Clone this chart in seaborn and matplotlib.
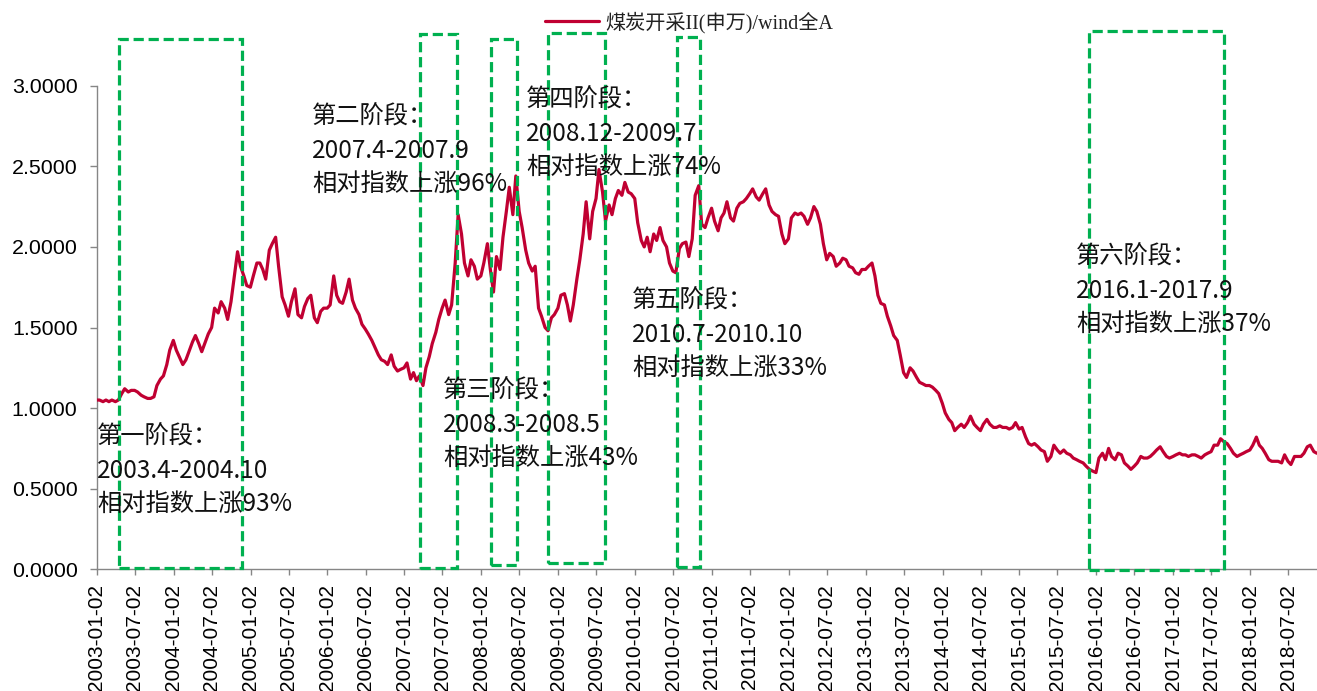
import matplotlib
matplotlib.use("Agg")
import matplotlib.pyplot as plt
import matplotlib.dates as mdates
from matplotlib.patches import Rectangle
from matplotlib.ticker import FormatStrFormatter, FixedLocator
import pandas as pd
import seaborn as sns

sns.set_style("ticks")
plt.rcParams["font.family"] = ["Liberation Sans", "Noto Sans CJK SC"]
plt.rcParams["axes.unicode_minus"] = False

# ---- data: coal mining (SW) / Wind All-A relative index, semi-monthly ----
series_name = "煤炭开采II(申万)/wind全A"
series_start = "2003-01-01"

ratio_2003 = [1.05, 1.05, 1.04, 1.05, 1.04, 1.05, 1.04, 1.05, 1.09, 1.12, 1.10, 1.11,
              1.11, 1.10, 1.08, 1.07, 1.06, 1.06, 1.07, 1.14, 1.18, 1.20, 1.27, 1.36]
ratio_2004 = [1.42, 1.36, 1.31, 1.27, 1.30, 1.35, 1.41, 1.45, 1.40, 1.35, 1.41, 1.46,
              1.50, 1.62, 1.59, 1.66, 1.62, 1.55, 1.66, 1.80, 1.97, 1.88, 1.82, 1.76]
ratio_2005 = [1.75, 1.82, 1.90, 1.90, 1.86, 1.80, 1.98, 2.02, 2.06, 1.88, 1.69, 1.64,
              1.57, 1.66, 1.74, 1.58, 1.56, 1.63, 1.68, 1.70, 1.56, 1.53, 1.60, 1.62]
ratio_2006 = [1.62, 1.64, 1.82, 1.70, 1.66, 1.65, 1.72, 1.80, 1.67, 1.62, 1.58, 1.52,
              1.49, 1.46, 1.42, 1.38, 1.33, 1.30, 1.29, 1.27, 1.33, 1.26, 1.23, 1.24]
ratio_2007 = [1.25, 1.28, 1.18, 1.22, 1.17, 1.20, 1.14, 1.25, 1.32, 1.40, 1.47, 1.55,
              1.62, 1.67, 1.58, 1.64, 1.90, 2.20, 2.08, 1.90, 1.82, 1.92, 1.88, 1.80]
ratio_2008 = [1.82, 1.90, 2.02, 1.86, 1.72, 1.94, 1.86, 2.06, 2.22, 2.37, 2.20, 2.44,
              2.22, 2.12, 1.98, 1.90, 1.85, 1.88, 1.62, 1.57, 1.50, 1.48, 1.56, 1.58]
ratio_2009 = [1.62, 1.70, 1.71, 1.64, 1.54, 1.64, 1.80, 1.92, 2.08, 2.28, 2.05, 2.22,
              2.30, 2.48, 2.34, 2.16, 2.26, 2.20, 2.30, 2.35, 2.32, 2.40, 2.34, 2.33]
ratio_2010 = [2.30, 2.15, 2.04, 2.00, 2.06, 1.97, 2.08, 2.04, 2.12, 2.04, 2.00, 1.90,
              1.85, 1.84, 1.99, 2.02, 2.03, 1.94, 2.05, 2.32, 2.38, 2.14, 2.12, 2.18]
ratio_2011 = [2.24, 2.16, 2.10, 2.18, 2.21, 2.28, 2.18, 2.16, 2.24, 2.27, 2.28, 2.30,
              2.33, 2.36, 2.31, 2.29, 2.33, 2.36, 2.26, 2.22, 2.20, 2.19, 2.08, 2.02]
ratio_2012 = [2.05, 2.18, 2.21, 2.20, 2.21, 2.19, 2.14, 2.18, 2.25, 2.22, 2.14, 2.02,
              1.92, 1.96, 1.94, 1.88, 1.90, 1.93, 1.92, 1.88, 1.87, 1.84, 1.83, 1.86]
ratio_2013 = [1.86, 1.88, 1.90, 1.82, 1.70, 1.65, 1.64, 1.57, 1.51, 1.45, 1.42, 1.33,
              1.22, 1.19, 1.25, 1.23, 1.19, 1.16, 1.15, 1.14, 1.14, 1.13, 1.11, 1.09]
ratio_2014 = [1.03, 0.97, 0.93, 0.91, 0.86, 0.88, 0.90, 0.88, 0.91, 0.95, 0.90, 0.88,
              0.86, 0.90, 0.93, 0.90, 0.88, 0.88, 0.89, 0.88, 0.88, 0.87, 0.88, 0.91]
ratio_2015 = [0.87, 0.88, 0.82, 0.78, 0.77, 0.78, 0.76, 0.74, 0.73, 0.67, 0.70, 0.77,
              0.74, 0.72, 0.74, 0.72, 0.71, 0.69, 0.68, 0.67, 0.66, 0.64, 0.62, 0.61]
ratio_2016 = [0.60, 0.69, 0.72, 0.68, 0.75, 0.70, 0.68, 0.72, 0.71, 0.66, 0.64, 0.62,
              0.64, 0.66, 0.70, 0.69, 0.69, 0.70, 0.72, 0.74, 0.76, 0.73, 0.70, 0.69]
ratio_2017 = [0.70, 0.71, 0.72, 0.71, 0.71, 0.70, 0.71, 0.71, 0.70, 0.69, 0.71, 0.72,
              0.73, 0.77, 0.77, 0.81, 0.79, 0.78, 0.75, 0.72, 0.70, 0.71, 0.72, 0.73]
ratio_2018 = [0.74, 0.77, 0.82, 0.77, 0.75, 0.72, 0.68, 0.67, 0.67, 0.67, 0.66, 0.71,
              0.67, 0.65, 0.70, 0.70, 0.70, 0.72, 0.76, 0.77, 0.73, 0.72]

ratio = (ratio_2003 + ratio_2004 + ratio_2005 + ratio_2006 + ratio_2007 + ratio_2008
         + ratio_2009 + ratio_2010 + ratio_2011 + ratio_2012 + ratio_2013 + ratio_2014
         + ratio_2015 + ratio_2016 + ratio_2017 + ratio_2018)
dates = pd.date_range(series_start, periods=len(ratio), freq="SMS")
df = pd.DataFrame({"date": dates, "ratio": ratio})

# ---- stage annotations ----
stage_titles = ["第一阶段：", "第二阶段：", "第三阶段：", "第四阶段：", "第五阶段：", "第六阶段："]
stage_periods = ["2003.4-2004.10", "2007.4-2007.9", "2008.3-2008.5",
                 "2008.12-2009.7", "2010.7-2010.10", "2016.1-2017.9"]
stage_gains = ["相对指数上涨93%", "相对指数上涨96%", "相对指数上涨43%",
               "相对指数上涨74%", "相对指数上涨33%", "相对指数上涨37%"]
box_starts = ["2003-04-18", "2007-03-18", "2008-02-18", "2008-11-14", "2010-07-22", "2015-11-29"]
box_ends = ["2004-11-22", "2007-09-11", "2008-06-19", "2009-08-13", "2010-11-07", "2017-08-31"]
box_bottoms = [0.006, 0.008, 0.027, 0.040, 0.016, -0.004]
box_tops = [3.29, 3.32, 3.29, 3.33, 3.30, 3.34]
# label anchors in pixels: left x, centre y of first line
label_x = [97, 312, 443, 526, 632, 1076]
label_y = [437, 117, 391, 100, 301, 257]
line_gap = 34

x_ticks = pd.date_range("2003-01-01", "2018-07-01", freq="6MS") + pd.Timedelta(days=1)
y_ticks = [0.0, 0.5, 1.0, 1.5, 2.0, 2.5, 3.0]

W, H = 1317, 691
fig = plt.figure(figsize=(W / 100, H / 100), dpi=100)
ax = fig.add_axes([96.7 / W, 1 - 569.3 / H, (W - 96.7) / W, (569.3 - 85.7) / H])

line_color = "#C00032"
green = "#00B050"
axis_gray = "#868686"

sns.lineplot(data=df, x="date", y="ratio", ax=ax, color=line_color, linewidth=2.3,
             label=series_name, zorder=3)

ax.set_ylim(0, 3.0)
ax.set_xlim(pd.Timestamp("2003-01-02"), pd.Timestamp("2018-11-16"))
ax.yaxis.set_major_locator(FixedLocator(y_ticks))
ax.yaxis.set_major_formatter(FormatStrFormatter("%.4f"))
ax.xaxis.set_major_locator(FixedLocator(mdates.date2num(x_ticks)))
ax.xaxis.set_major_formatter(mdates.DateFormatter("%Y-%m-%d"))
ax.set_xlabel("")
ax.set_ylabel("")

for s in ["top", "right"]:
    ax.spines[s].set_visible(False)
for s in ["left", "bottom"]:
    ax.spines[s].set_color(axis_gray)
    ax.spines[s].set_linewidth(1.0)

ax.tick_params(axis="y", direction="out", length=4.8, width=1.0, color=axis_gray,
               pad=9, labelsize=15.4, labelcolor="black")
ax.tick_params(axis="x", direction="out", length=4.0, width=1.0, color=axis_gray,
               pad=6.5, labelsize=15, labelcolor="black", labelrotation=90)
for lbl in ax.get_xticklabels() + ax.get_yticklabels():
    lbl.set_fontfamily(["Liberation Sans"])

# dashed stage boxes
for x0, x1, b, t in zip(box_starts, box_ends, box_bottoms, box_tops):
    n0 = mdates.date2num(pd.Timestamp(x0))
    n1 = mdates.date2num(pd.Timestamp(x1))
    rect = Rectangle((n0, b), n1 - n0, t - b, fill=False, edgecolor=green,
                     linewidth=2.3, linestyle=(0, (3.2, 1.5)), clip_on=False, zorder=4)
    ax.add_patch(rect)

# stage labels
for title, period, gain, lx, ly in zip(stage_titles, stage_periods, stage_gains, label_x, label_y):
    for i, txt in enumerate([title, period, gain]):
        fig.text(lx / W, 1 - (ly + i * line_gap) / H, txt, ha="left", va="center",
                 fontsize=17.5, color="#111111",
                 family=["Noto Sans CJK SC", "DejaVu Sans"], zorder=6)

# legend
leg = ax.legend(loc="center left", bbox_to_anchor=(545 / W, 1 - 22.7 / H),
                bbox_transform=fig.transFigure, frameon=False, borderpad=0,
                borderaxespad=0, handlelength=2.7, handletextpad=0.3,
                prop={"family": ["Liberation Serif", "Noto Sans CJK SC"], "size": 14.5})
for t in leg.get_texts():
    t.set_color("#222222")

fig.savefig("out.png", dpi=100)
